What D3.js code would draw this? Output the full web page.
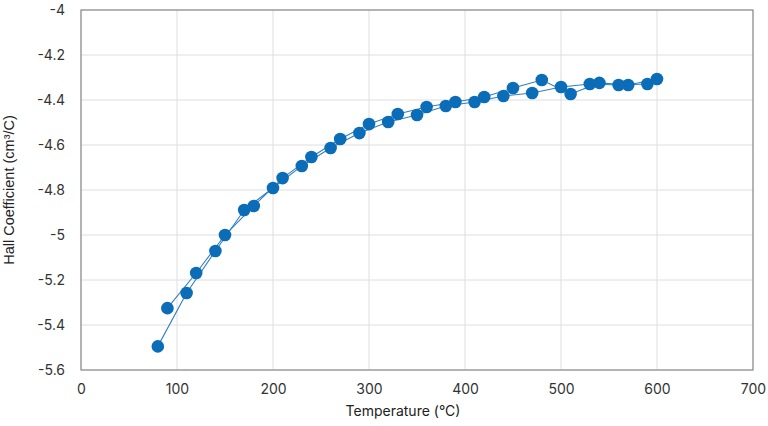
<!DOCTYPE html>
<html><head><meta charset="utf-8">
<script src="https://cdn.jsdelivr.net/npm/d3@7"></script>
<style>body{margin:0;background:#fff}svg{display:block}</style>
</head><body>
<svg id="c" width="768" height="426"></svg>
<script>
const tempsA = [80,110,140,170,200,230,260,290,320,350,380,410,440,470,500,530,560,590];
const hallA  = [-5.495,-5.258,-5.071,-4.889,-4.791,-4.693,-4.613,-4.547,-4.498,-4.467,-4.427,-4.409,-4.382,-4.369,-4.342,-4.329,-4.333,-4.329];
const tempsB = [90,120,150,180,210,240,270,300,330,360,390,420,450,480,510,540,570,600];
const hallB  = [-5.325,-5.169,-5.0,-4.871,-4.747,-4.653,-4.573,-4.507,-4.462,-4.431,-4.409,-4.387,-4.347,-4.311,-4.373,-4.324,-4.333,-4.307];
const xTicks = [0,100,200,300,400,500,600,700];
const yTicks = [-5.6,-5.4,-5.2,-5,-4.8,-4.6,-4.4,-4.2,-4];

const svg = d3.select('#c');
const L=81,R=753,T=10,B=370;
const x = d3.scaleLinear().domain([0,700]).range([L,R]);
const y = d3.scaleLinear().domain([-5.6,-4]).range([B,T]);
const tickFont = "Inter, 'Open Sans', sans-serif";

// grid
svg.append('g').selectAll('line').data(yTicks).join('line')
  .attr('x1',L).attr('x2',R).attr('y1',d=>y(d)).attr('y2',d=>y(d))
  .attr('stroke','#dedede').attr('stroke-width',1);
svg.append('g').selectAll('line').data(xTicks).join('line')
  .attr('y1',T).attr('y2',B).attr('x1',d=>x(d)).attr('x2',d=>x(d))
  .attr('stroke','#dedede').attr('stroke-width',1);
// frame
svg.append('rect').attr('x',L).attr('y',T).attr('width',R-L).attr('height',B-T)
  .attr('fill','none').attr('stroke','#8c8c8c').attr('stroke-width',1.2);

// axes
const xa = svg.append('g').attr('transform',`translate(0,${B})`)
  .call(d3.axisBottom(x).tickValues(xTicks).tickSize(0).tickPadding(14).tickFormat(d3.format('d')));
const ya = svg.append('g').attr('transform',`translate(${L},0)`)
  .call(d3.axisLeft(y).tickValues(yTicks).tickSize(0).tickPadding(16).tickFormat(d=>String(+d.toFixed(1))));
[xa,ya].forEach(a=>{a.select('.domain').remove();
  a.selectAll('text').attr('font-family',tickFont).attr('font-size',14).attr('fill','#333');});

svg.append('text').attr('x',(L+R)/2-14).attr('y',416).attr('text-anchor','middle')
  .attr('font-family',tickFont).attr('font-size',14).attr('fill','#222').text('Temperature (°C)');
svg.append('text').attr('transform',`translate(14,${(T+B)/2}) rotate(-90)`).attr('text-anchor','middle')
  .attr('font-family',"'Liberation Sans', Arial, sans-serif").attr('font-size',14.5).attr('fill','#222')
  .text('Hall Coefficient (cm³/C)');

const line = d3.line().x(d=>x(d[0])).y(d=>y(d[1]));
const series = [d3.zip(tempsA,hallA), d3.zip(tempsB,hallB)];
series.forEach(s=>{
  svg.append('path').datum(s).attr('d',line).attr('fill','none')
    .attr('stroke','#2f7fc4').attr('stroke-width',1.1);
});
series.forEach(s=>{
  svg.append('g').selectAll('circle').data(s).join('circle')
    .attr('cx',d=>x(d[0])).attr('cy',d=>y(d[1])).attr('r',6.3).attr('fill','#0b6cb7');
});
</script>
</body></html>
